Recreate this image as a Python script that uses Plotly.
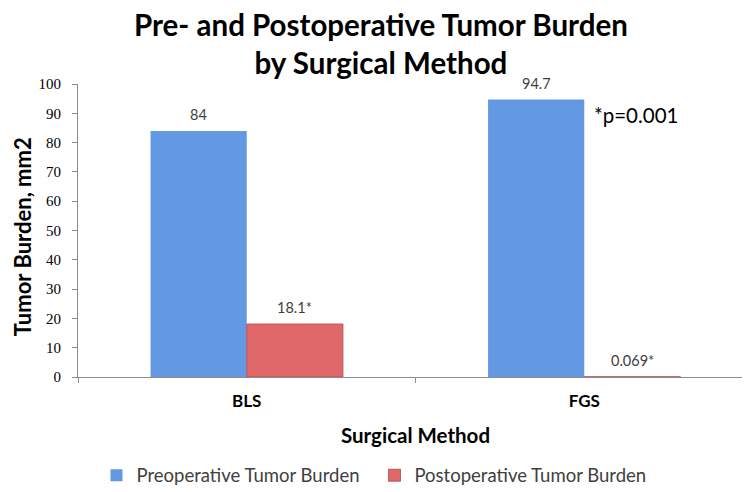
import plotly.graph_objects as go

categories = ["BLS", "FGS"]
pre_values = [84, 94.7]
post_values = [18.1, 0.069]
pre_labels = ["84", "94.7"]
post_labels = ["18.1*", "0.069*"]
y_ticks = [0, 10, 20, 30, 40, 50, 60, 70, 80, 90, 100]

BARGAP = 0.43
half_offset = (1 - BARGAP) / 4  # bar centre offset within a category, in category units

label_font = dict(family="Lato", size=14.5, color="#404040")

fig = go.Figure()
fig.add_trace(go.Bar(
    x=categories, y=pre_values, name="Preoperative Tumor Burden",
    marker=dict(color="#6399e3", line=dict(width=0)),
))
fig.add_trace(go.Bar(
    x=categories, y=post_values, name="Postoperative Tumor Burden",
    marker=dict(color="#e06868", line=dict(color="#b04848", width=0.8)),
))

annotations = [
    dict(
        text="Pre- and Postoperative Tumor Burden<br>by Surgical Method",
        x=0.5, xref="paper", xshift=-35, y=1.268, yref="paper",
        xanchor="center", yanchor="top", showarrow=False,
        font=dict(family="Lato", size=29.5, color="black", weight="bold"),
    ),
    dict(
        text="Tumor Burden, mm2", textangle=-90,
        x=-0.083, xref="paper", y=0.48, yref="paper",
        xanchor="center", yanchor="middle", showarrow=False,
        font=dict(family="Lato", size=22, color="black", weight="bold"),
    ),
    dict(
        text="*p=0.001", x=1, xref="x", xshift=8, y=89.5, yref="y",
        xanchor="left", yanchor="middle", showarrow=False,
        font=dict(family="Lato", size=20.5, color="black"),
    ),
]
for i, (v, t) in enumerate(zip(pre_values, pre_labels)):
    annotations.append(dict(text=t, x=i - half_offset, xref="x", y=v, yref="y",
                            yshift=16, xanchor="center", yanchor="middle",
                            showarrow=False, font=label_font))
for i, (v, t) in enumerate(zip(post_values, post_labels)):
    annotations.append(dict(text=t, x=i + half_offset, xref="x", y=v, yref="y",
                            yshift=16, xanchor="center", yanchor="middle",
                            showarrow=False, font=label_font))

fig.update_layout(
    width=750, height=492,
    margin=dict(l=70, r=5, t=76, b=123),
    paper_bgcolor="white", plot_bgcolor="white",
    barmode="group", bargap=BARGAP, bargroupgap=0.0,
    xaxis=dict(
        title=dict(text="Surgical Method", font=dict(family="Lato", size=20.5, color="black", weight="bold"), standoff=18),
        tickfont=dict(family="Lato", size=17, color="black", weight="bold"),
        ticklabelstandoff=9,
        showline=True, linecolor="#8c8c8c", linewidth=1,
        ticks="outside", ticklen=5, tickcolor="#8c8c8c", tickson="boundaries",
        showgrid=False, automargin=False,
    ),
    yaxis=dict(
        range=[0, 100], tickvals=y_ticks,
        tickfont=dict(family="Liberation Serif", size=15, color="black"),
        ticklabelstandoff=8,
        showline=True, linecolor="#8c8c8c", linewidth=1,
        ticks="outside", ticklen=5, tickcolor="#8c8c8c",
        showgrid=False, zeroline=False, automargin=False,
    ),
    legend=dict(
        orientation="h", xref="container", x=0.118, xanchor="left",
        yref="container", y=0.088, yanchor="top",
        font=dict(family="Lato", size=18.5, color="#404040"),
        itemwidth=30, traceorder="normal", entrywidth=233,
    ),
    annotations=annotations,
)

fig.write_html("out.html")
